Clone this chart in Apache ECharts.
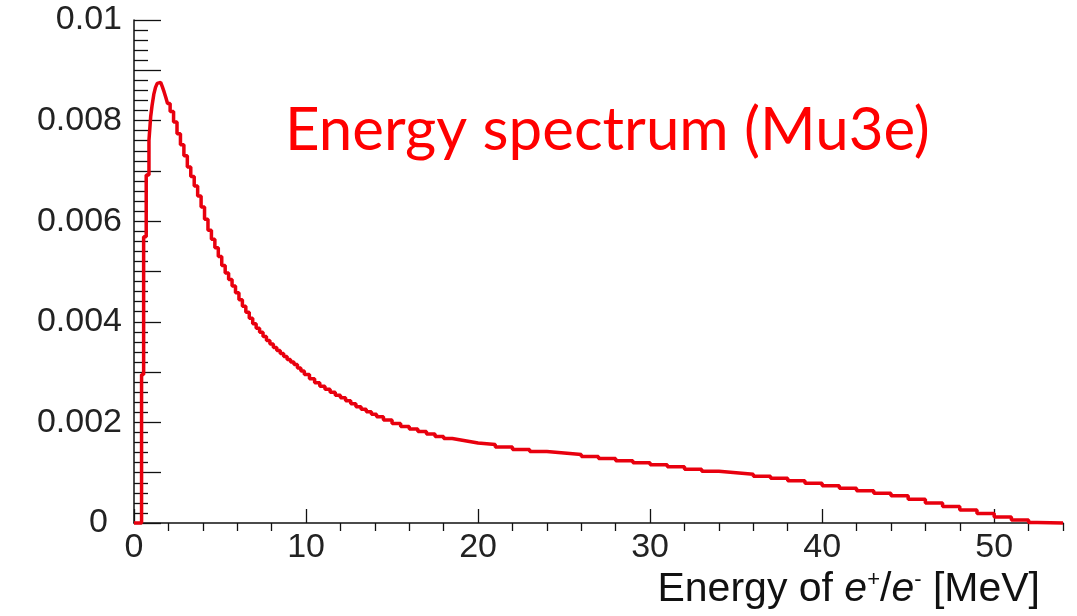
<!DOCTYPE html>
<html>
<head>
<meta charset="utf-8">
<script src="https://cdn.jsdelivr.net/npm/echarts@6/dist/echarts.min.js"></script>
<style>
    html, body {
        margin: 0;
        padding: 0;
        background: #fff;
    }

    #spectrum {
        width: 1077px;
        height: 616px;
    }
</style>
</head>
<body>
<div id="spectrum"></div>
<script>
    // bin low edges [MeV] and contents
    const energy = [0, 0.44, 0.56, 0.71, 0.87, 0.97, 1.05, 1.15, 1.25, 1.35, 1.45, 1.55, 1.65, 1.75, 1.85,
        1.95, 2.1, 2.3, 2.5, 2.7, 2.9, 3.1, 3.3, 3.5, 3.7, 3.9, 4.1, 4.3, 4.5, 4.7, 4.9, 5.1, 5.3, 5.5, 5.7,
        5.9, 6.1, 6.3, 6.5, 6.7, 6.9, 7.1, 7.3, 7.5, 7.7, 7.9, 8.1, 8.3, 8.5, 8.7, 8.9, 9.1, 9.3, 9.5, 9.7,
        9.9, 10.2, 10.5, 10.8, 11.1, 11.4, 11.7, 12.0, 12.3, 12.6, 12.9, 13.2, 13.5, 13.8, 14.1, 14.5, 15.0,
        15.5, 16.0, 16.5, 17.0, 17.5, 18.0, 18.5, 19, 19.5, 20, 21, 22, 23, 24, 25, 26, 27, 28, 29, 30, 31,
        32, 33, 34, 35, 36, 37, 38, 39, 40, 41, 42, 43, 44, 45, 46, 47, 48, 49, 50, 51, 52, 52.5, 54];
    const density = [0, 0.00295, 0.00569, 0.00692, 0.00761, 0.00808, 0.00830, 0.00852, 0.00866, 0.00874,
        0.00876, 0.00873, 0.00867, 0.00857, 0.00846, 0.00834, 0.00818, 0.00797, 0.00774, 0.00752, 0.00730,
        0.00708, 0.00689, 0.00670, 0.00650, 0.00628, 0.00604, 0.00582, 0.00564, 0.00547, 0.00530, 0.00512,
        0.00497, 0.00484, 0.00471, 0.00458, 0.00444, 0.00431, 0.00419, 0.00407, 0.00396, 0.00387, 0.00379,
        0.00371, 0.00363, 0.00356, 0.00349, 0.00343, 0.00337, 0.00331, 0.00325, 0.00320, 0.00315, 0.00308,
        0.00302, 0.00295, 0.00287, 0.00279, 0.00272, 0.00266, 0.00260, 0.00254, 0.00249, 0.00243, 0.00237,
        0.00231, 0.00226, 0.00221, 0.00216, 0.00211, 0.00205, 0.00198, 0.00192, 0.00187, 0.00182, 0.00177,
        0.00172, 0.00168, 0.00165, 0.00162, 0.00159, 0.00156, 0.00151, 0.00146, 0.00142, 0.00139, 0.00136,
        0.00132, 0.00128, 0.00124, 0.00120, 0.00116, 0.00112, 0.00107, 0.00103, 0.00100, 0.00097, 0.00093,
        0.00089, 0.00084, 0.00079, 0.00074, 0.00069, 0.00064, 0.00059, 0.00054, 0.00047, 0.00040, 0.00033,
        0.00026, 0.00019, 0.00012, 0.00006, 0.00001, 0, 0];

    const xLabels = [0, 10, 20, 30, 40, 50];
    const xMinor = [2, 4, 6, 8, 12, 14, 16, 18, 22, 24, 26, 28, 32, 34, 36, 38, 42, 44, 46, 48, 52, 54];
    const yLabels = [0, 0.002, 0.004, 0.006, 0.008, 0.01];
    const yMajor = [0, 0.001, 0.002, 0.003, 0.004, 0.005, 0.006, 0.007, 0.008, 0.009, 0.01];

    let yMinor = [];
    for (let i = 0; i <= 50; i++) {
        if (i % 5 !== 0) yMinor.push(+(i * 0.0002).toFixed(4));
    }

    let points = [];
    for (let i = 0; i < energy.length; i++) {
        points.push([energy[i], density[i]]);
    }

    const labelFont = 'Liberation Sans';
    const axisColor = '#111';

    let option = {
        animation: false,
        title: {
            text: 'Energy spectrum (Mu3e)',
            left: 280,
            top: 96,
            textStyle: {
                color: '#ff0000',
                fontFamily: 'Lato',
                fontWeight: 'normal',
                fontSize: 60
            }
        },
        grid: {
            left: 134,
            right: 14,
            top: 20,
            bottom: 93,
            containLabel: false
        },
        xAxis: [{
            type: 'value',
            min: 0,
            max: 54,
            name: 'Energy of {i|e}{s|+}/{i|e}{s|-} [MeV]',
            nameLocation: 'end',
            nameGap: -23,
            nameTextStyle: {
                align: 'right',
                verticalAlign: 'top',
                padding: [46, 0, 0, 0],
                color: axisColor,
                fontFamily: labelFont,
                fontSize: 41,
                rich: {
                    i: {fontStyle: 'italic', fontFamily: labelFont, fontSize: 41, color: axisColor},
                    s: {fontFamily: labelFont, fontSize: 22, color: axisColor, verticalAlign: 'top', padding: [0, 0, 15, 0]}
                }
            },
            splitLine: {show: false},
            axisLine: {lineStyle: {color: axisColor, width: 1.5}},
            axisTick: {
                inside: true,
                length: 14,
                customValues: xLabels,
                lineStyle: {color: axisColor, width: 1.3}
            },
            axisLabel: {
                customValues: xLabels,
                margin: 8,
                color: '#222',
                fontFamily: labelFont,
                fontSize: 34
            }
        }, {
            type: 'value',
            min: 0,
            max: 54,
            axisLine: {show: false},
            splitLine: {show: false},
            axisLabel: {show: false},
            axisTick: {
                inside: true,
                length: 8,
                customValues: xMinor,
                lineStyle: {color: axisColor, width: 1.3}
            }
        }],
        yAxis: [{
            type: 'value',
            min: 0,
            max: 0.01,
            splitLine: {show: false},
            axisLine: {show: true, lineStyle: {color: axisColor, width: 1.5}},
            axisTick: {
                show: true,
                inside: true,
                length: 27,
                customValues: yMajor,
                lineStyle: {color: axisColor, width: 1.3}
            },
            axisLabel: {
                customValues: yLabels,
                margin: 12,
                color: '#222',
                fontFamily: labelFont,
                fontSize: 34,
                formatter: function (v) {
                    return v === 0 ? '{z|0}' : String(v);
                },
                rich: {
                    z: {fontFamily: labelFont, fontSize: 34, color: '#222', padding: [0, 14, 0, 0]}
                }
            }
        }, {
            type: 'value',
            position: 'left',
            min: 0,
            max: 0.01,
            splitLine: {show: false},
            axisLine: {show: false},
            axisLabel: {show: false},
            axisTick: {
                show: true,
                inside: true,
                length: 14,
                customValues: yMinor,
                lineStyle: {color: axisColor, width: 1.3}
            }
        }],
        series: [{
            type: 'line',
            step: 'end',
            data: points,
            xAxisIndex: 0,
            yAxisIndex: 0,
            showSymbol: false,
            clip: false,
            lineStyle: {
                color: '#e8000e',
                width: 3.5
            }
        }]
    };

    let chart = echarts.init(document.getElementById('spectrum'));
    chart.setOption(option);
</script>
</body>
</html>
